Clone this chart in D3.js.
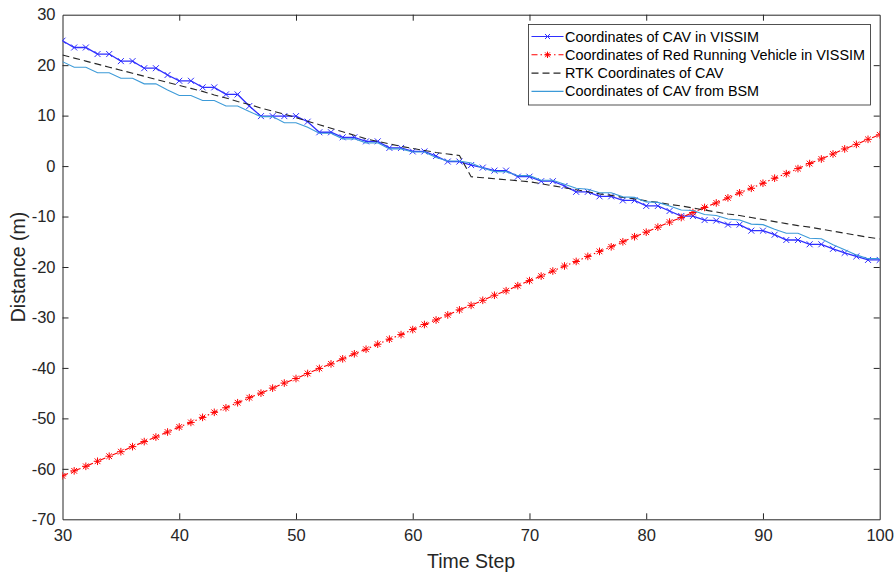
<!DOCTYPE html>
<html>
<head>
<meta charset="utf-8">
<script src="https://cdn.jsdelivr.net/npm/d3@7"></script>
<style>
  body { margin: 0; background: #fff; }
  svg { display: block; font-family: "Liberation Sans", Arial, sans-serif; }
</style>
</head>
<body>
<script>
var width = 894, height = 574;
var margin = {left: 62.5, right: 14.3, top: 14.7, bottom: 54.7};

// time steps 30..100
var steps = [30,31,32,33,34,35,36,37,38,39,40,41,42,43,44,45,46,47,48,49,50,
  51,52,53,54,55,56,57,58,59,60,61,62,63,64,65,66,67,68,69,70,
  71,72,73,74,75,76,77,78,79,80,81,82,83,84,85,86,87,88,89,90,
  91,92,93,94,95,96,97,98,99,100];

var cavVissim = [24.85,23.5,23.5,22.2,22.2,20.8,20.8,19.4,19.4,18.05,16.9,16.9,15.6,15.6,14.2,14.2,11.9,9.9,9.9,9.9,9.9,
  8.8,6.7,6.7,5.7,5.7,4.9,4.9,3.6,3.6,2.9,2.9,2.0,0.9,0.9,0.2,-0.3,-0.9,-0.9,-2.1,-2.1,
  -3.0,-3.0,-3.95,-5.1,-5.1,-6.0,-6.0,-6.8,-6.8,-7.9,-7.9,-8.9,-9.9,-9.9,-10.7,-10.8,-11.6,-11.6,-12.8,-12.8,
  -13.6,-14.65,-14.65,-15.5,-15.5,-16.4,-17.2,-17.9,-18.6,-18.6];

var redVissim = [-61.4,-60.4,-59.5,-58.5,-57.5,-56.6,-55.6,-54.6,-53.7,-52.7,-51.7,-50.8,-49.8,-48.8,-47.9,-46.9,-45.9,-45.0,-44.0,-43.0,-42.1,
  -41.1,-40.1,-39.2,-38.2,-37.2,-36.3,-35.3,-34.3,-33.4,-32.4,-31.4,-30.5,-29.5,-28.5,-27.6,-26.6,-25.6,-24.7,-23.7,-22.7,
  -21.8,-20.8,-19.8,-18.9,-17.9,-16.9,-16.0,-15.0,-14.0,-13.1,-12.1,-11.1,-10.2,-9.2,-8.2,-7.3,-6.3,-5.3,-4.4,-3.4,
  -2.4,-1.5,-0.5,0.5,1.4,2.4,3.4,4.3,5.3,6.2];

var rtkCav = [22.0,21.4,20.8,20.2,19.6,19.0,18.4,17.8,17.2,16.6,16.0,15.4,14.8,14.1,13.5,12.8,12.2,11.5,10.9,10.3,9.6,
  8.9,8.2,7.5,6.8,6.1,5.4,4.9,4.4,3.9,3.5,3.1,2.7,2.4,2.1,-2.1,-2.3,-2.5,-2.7,-2.9,-3.1,
  -3.5,-3.9,-4.3,-4.7,-5.1,-5.5,-5.8,-6.2,-6.5,-6.9,-7.2,-7.6,-7.9,-8.3,-8.7,-9.1,-9.5,-9.8,-10.2,-10.6,
  -11.0,-11.4,-11.8,-12.1,-12.5,-12.9,-13.3,-13.7,-14.1,-14.45];

var bsmCav = [20.7,19.6,19.6,18.5,18.5,17.4,17.4,16.3,16.3,15.1,14.0,14.0,13.0,13.0,11.9,11.9,10.8,9.8,9.8,8.6,8.6,
  7.7,6.5,6.5,5.4,5.4,4.6,4.6,3.4,3.4,2.8,2.8,1.7,1.0,1.0,0.6,-0.4,-1.1,-1.1,-1.9,-1.9,
  -2.8,-2.8,-3.6,-4.4,-4.6,-5.3,-5.3,-6.1,-6.2,-7.1,-7.2,-7.9,-8.7,-8.8,-9.6,-9.8,-10.5,-10.7,-11.5,-11.6,
  -12.5,-13.3,-13.3,-14.3,-14.4,-15.6,-16.6,-17.6,-18.35,-18.35];

var xTicks = [30,40,50,60,70,80,90,100];
var yTicks = [-70,-60,-50,-40,-30,-20,-10,0,10,20,30];
var legendLabels = ["Coordinates of CAV in VISSIM", "Coordinates of Red Running Vehicle in VISSIM",
  "RTK Coordinates of CAV", "Coordinates of CAV from BSM"];

var axisColor = "#262626";

var svg = d3.select("body").append("svg")
  .attr("width", width).attr("height", height);

var x = d3.scaleLinear().domain([30, 100]).range([margin.left, width - margin.right]);
var y = d3.scaleLinear().domain([-70, 30]).range([height - margin.bottom, margin.top]);

svg.append("defs").append("clipPath").attr("id", "clip")
  .append("rect")
  .attr("x", margin.left).attr("y", margin.top)
  .attr("width", x(100) - x(30)).attr("height", y(-70) - y(30));

// plain hyphen minus like matlab
var fmt = function(d) { return String(d); };

// axes with inward ticks
var tl = 6;
var bottomAxis = d3.axisBottom(x).tickValues(xTicks).tickFormat(fmt).tickSizeInner(-tl).tickSizeOuter(0).tickPadding(10);
var topAxis = d3.axisTop(x).tickValues(xTicks).tickSizeInner(-tl).tickSizeOuter(0).tickFormat("");
var leftAxis = d3.axisLeft(y).tickValues(yTicks).tickFormat(fmt).tickSizeInner(-tl).tickSizeOuter(0).tickPadding(7);
var rightAxis = d3.axisRight(y).tickValues(yTicks).tickSizeInner(-tl).tickSizeOuter(0).tickFormat("");

function styleAxis(g) {
  g.select(".domain").attr("stroke", axisColor).attr("stroke-width", 1);
  g.selectAll(".tick line").attr("stroke", axisColor).attr("stroke-width", 1);
  g.selectAll(".tick text").attr("fill", axisColor).style("font-size", "16.5px")
    .style("font-family", "'Liberation Sans', Arial, sans-serif");
}

svg.append("g").attr("transform", "translate(0," + y(-70) + ")").call(bottomAxis).call(styleAxis);
svg.append("g").attr("transform", "translate(0," + y(30) + ")").call(topAxis).call(styleAxis);
svg.append("g").attr("transform", "translate(" + x(30) + ",0)").call(leftAxis).call(styleAxis);
svg.append("g").attr("transform", "translate(" + x(100) + ",0)").call(rightAxis).call(styleAxis);

// remove end ticks that coincide with the box
svg.selectAll(".tick").filter(function(d) { return d === 30 || d === 100 || d === -70; })
  .select("line").remove();

// axis labels
svg.append("text")
  .attr("x", (x(30) + x(100)) / 2).attr("y", 568)
  .attr("text-anchor", "middle").attr("fill", axisColor)
  .style("font-size", "19.5px").text("Time Step");

svg.append("text")
  .attr("transform", "translate(25," + ((y(30) + y(-70)) / 2) + ") rotate(-90)")
  .attr("text-anchor", "middle").attr("fill", axisColor)
  .style("font-size", "19.5px").text("Distance (m)");

// series
var series = [
  {name: legendLabels[0], vals: cavVissim, color: "#2f2fff", dash: null, marker: "x"},
  {name: legendLabels[1], vals: redVissim, color: "#ff0000", dash: "6,3,1.5,3", marker: "star"},
  {name: legendLabels[2], vals: rtkCav, color: "#262626", dash: "7,4", marker: null},
  {name: legendLabels[3], vals: bsmCav, color: "#3c9ad8", dash: null, marker: null}
];

var line = d3.line()
  .x(function(d) { return x(d.t); })
  .y(function(d) { return y(d.v); });

var plot = svg.append("g").attr("clip-path", "url(#clip)");

function markerPath(type, s) {
  if (type === "x") {
    return "M" + (-s) + "," + (-s) + "L" + s + "," + s + "M" + (-s) + "," + s + "L" + s + "," + (-s);
  }
  // asterisk
  var d = s * 0.75;
  return "M" + (-s) + ",0L" + s + ",0M0," + (-s) + "L0," + s +
    "M" + (-d) + "," + (-d) + "L" + d + "," + d + "M" + (-d) + "," + d + "L" + d + "," + (-d);
}

series.forEach(function(s) {
  var pts = steps.map(function(t, i) { return {t: t, v: s.vals[i]}; });
  plot.append("path")
    .datum(pts)
    .attr("d", line)
    .attr("fill", "none")
    .attr("stroke", s.color)
    .attr("stroke-width", s.marker === "x" ? 1.3 : 1.1)
    .attr("stroke-dasharray", s.dash);
  if (s.marker) {
    plot.append("g").selectAll("path")
      .data(pts)
      .enter().append("path")
      .attr("transform", function(d) { return "translate(" + x(d.t) + "," + y(d.v) + ")"; })
      .attr("d", markerPath(s.marker, s.marker === "x" ? 3 : 3.8))
      .attr("fill", "none")
      .attr("stroke", s.color)
      .attr("stroke-width", 1);
  }
});

// legend
var lg = svg.append("g").attr("transform", "translate(528.5,24.5)");
lg.append("rect")
  .attr("width", 342).attr("height", 80.5)
  .attr("fill", "#fff").attr("stroke", axisColor).attr("stroke-width", 0.8);

series.forEach(function(s, i) {
  var cy = 12 + i * 18.3;
  lg.append("line")
    .attr("x1", 3).attr("x2", 35).attr("y1", cy).attr("y2", cy)
    .attr("stroke", s.color).attr("stroke-width", 1.1)
    .attr("stroke-dasharray", s.dash);
  if (s.marker) {
    lg.append("path")
      .attr("transform", "translate(19," + cy + ")")
      .attr("d", markerPath(s.marker, s.marker === "x" ? 2.5 : 3.2))
      .attr("fill", "none").attr("stroke", s.color).attr("stroke-width", 1);
  }
  lg.append("text")
    .attr("x", 36.5).attr("y", cy + 5)
    .attr("fill", "#000").style("font-size", "14.4px")
    .text(s.name);
});
</script>
</body>
</html>
